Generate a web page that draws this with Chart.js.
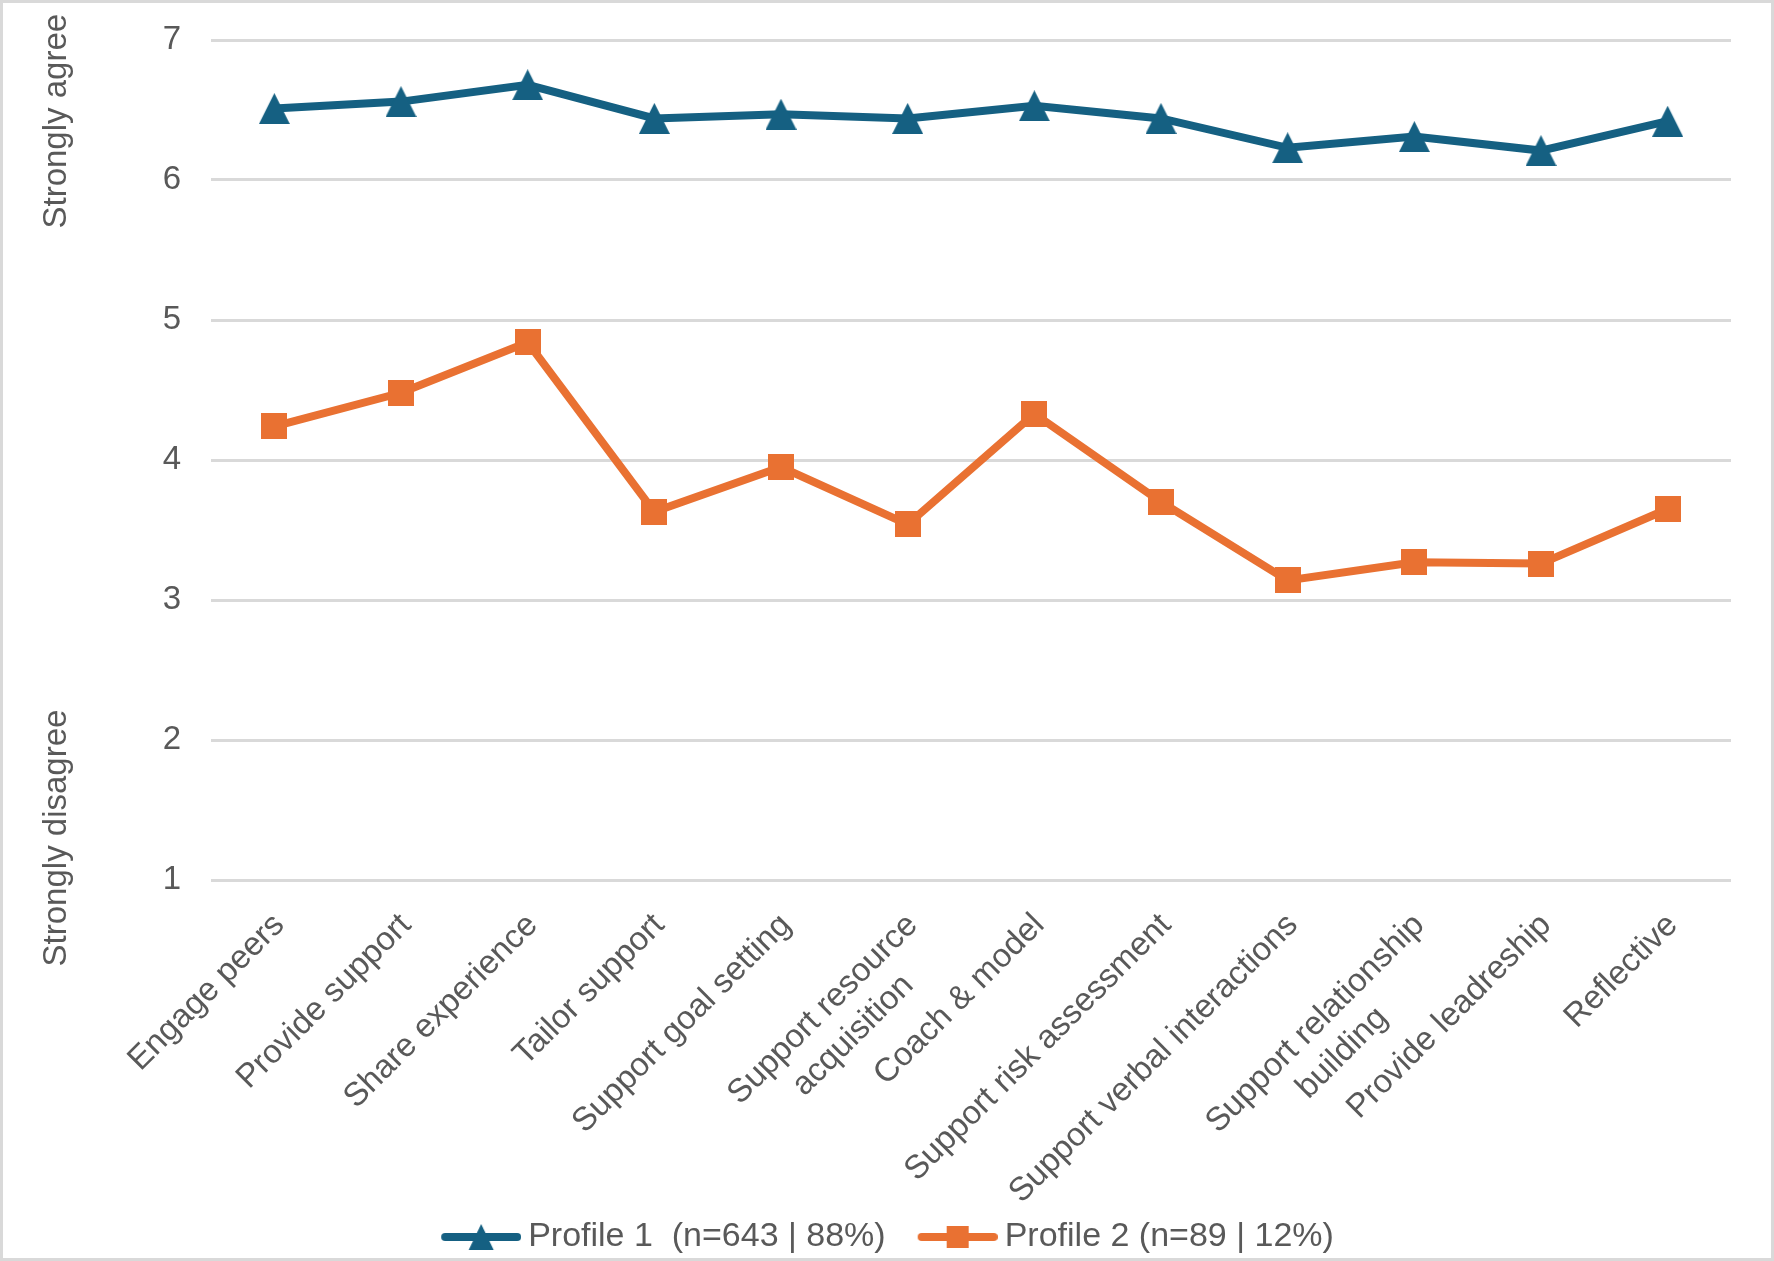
<!DOCTYPE html>
<html><head><meta charset="utf-8">
<script src="https://cdn.jsdelivr.net/npm/chart.js@4.4.1/dist/chart.umd.min.js"></script>
<style>html,body{margin:0;padding:0;background:#fff;} #wrap{width:1774px;height:1261px;}</style>
</head><body><div id="wrap"><canvas id="c" width="1774" height="1261"></canvas></div>
<script>
const categories = ['Engage peers','Provide support','Share experience','Tailor support','Support goal setting',['Support resource','acquisition'],'Coach & model','Support risk assessment','Support verbal interactions',['Support relationship','building'],'Provide leadreship','Reflective'];
const profile1Values = [6.51,6.56,6.68,6.44,6.47,6.44,6.53,6.44,6.23,6.31,6.21,6.42];
const profile2Values = [4.24,4.48,4.84,3.63,3.95,3.54,4.33,3.70,3.14,3.27,3.26,3.65];
const yTicks = [1,2,3,4,5,6,7];
const seriesNames = ['Profile 1  (n=643 | 88%)','Profile 2 (n=89 | 12%)'];
const axisNotes = ['Strongly agree','Strongly disagree'];

const BLUE = '#156082', ORANGE = '#E97132', TEXT = '#595959', GRID = '#d9d9d9';
const FONT = '"Liberation Sans", Arial, Helvetica, sans-serif';
Chart.defaults.font.family = FONT;
Chart.defaults.font.size = 33;
Chart.defaults.color = TEXT;

function makeTriangle(w,h,color){const c=document.createElement('canvas');c.width=w;c.height=h;const g=c.getContext('2d');g.fillStyle=color;g.beginPath();g.moveTo(w/2,0);g.lineTo(w,h);g.lineTo(0,h);g.closePath();g.fill();return c;}
function makeSquare(s,color){const c=document.createElement('canvas');c.width=s;c.height=s;const g=c.getContext('2d');g.fillStyle=color;g.fillRect(0,0,s,s);return c;}
// legend icon: transparent margin on the left, line+marker on the right 80px
const LEG_B = 97, LEG_W = LEG_B + 20;
function makeLegendIcon(kind,color){const c=document.createElement('canvas');c.width=LEG_W;c.height=28;const g=c.getContext('2d');const o=LEG_W-80;g.strokeStyle=color;g.lineWidth=8;g.lineCap='round';g.beginPath();g.moveTo(o+4,14);g.lineTo(o+76,14);g.stroke();g.fillStyle=color;if(kind==='tri'){g.beginPath();g.moveTo(o+40,1);g.lineTo(o+52.5,27);g.lineTo(o+27.5,27);g.closePath();g.fill();}else{g.fillRect(o+29,3,22,22);}return c;}

const triPoint = makeTriangle(31,31,BLUE);
const sqPoint = makeSquare(26,ORANGE);
const legendIcons = [makeLegendIcon('tri',BLUE), makeLegendIcon('sq',ORANGE)];

// centre shorter lines of multi-line labels (Chart.js right-aligns rotated labels)
const mctx = document.createElement('canvas').getContext('2d');
mctx.font = '33px ' + FONT;
function centreLines(lbl){
  if(!Array.isArray(lbl)) return lbl;
  const widths = lbl.map(t=>mctx.measureText(t).width);
  const maxW = Math.max(...widths), sp = mctx.measureText(' ').width;
  return lbl.map((t,i)=>t + ' '.repeat(Math.round((maxW-widths[i])/2/sp)));
}

const framePlugin = {
  id:'frame',
  beforeDraw(chart){const ctx=chart.ctx;ctx.save();ctx.fillStyle='#fff';ctx.fillRect(0,0,chart.width,chart.height);ctx.restore();},
  afterDraw(chart){
    const ctx=chart.ctx, y=chart.scales.y;
    ctx.save();ctx.fillStyle=TEXT;ctx.font='33px '+FONT;ctx.textAlign='center';ctx.textBaseline='alphabetic';
    [[axisNotes[0],6.42],[axisNotes[1],1.3]].forEach(([t,v])=>{ctx.save();ctx.translate(66,y.getPixelForValue(v));ctx.rotate(-Math.PI/2);ctx.fillText(t,0,0);ctx.restore();});
    ctx.strokeStyle=GRID;ctx.lineWidth=3;ctx.strokeRect(1.5,1.5,chart.width-3,chart.height-3);
    ctx.restore();
  }
};

new Chart(document.getElementById('c'), {
  type:'line',
  data:{
    labels:categories,
    datasets:[
      {label:seriesNames[0],data:profile1Values,borderColor:BLUE,backgroundColor:BLUE,borderWidth:8,pointStyle:triPoint,pointRadius:15,pointHoverRadius:15,tension:0},
      {label:seriesNames[1],data:profile2Values,borderColor:ORANGE,backgroundColor:ORANGE,borderWidth:8,pointStyle:sqPoint,pointRadius:15,pointHoverRadius:15,tension:0}
    ]
  },
  options:{
    responsive:false, animation:false, devicePixelRatio:1,
    layout:{padding:{top:40,bottom:-3,left:0,right:26}},
    plugins:{
      tooltip:{enabled:false},
      legend:{position:'bottom',labels:{usePointStyle:true,pointStyleWidth:LEG_B,padding:5,color:TEXT,font:{size:34},
        generateLabels(chart){const items=Chart.defaults.plugins.legend.labels.generateLabels(chart);items.forEach((it,i)=>{it.pointStyle=legendIcons[i];});return items;}}}
    },
    scales:{
      x:{offset:true,grid:{display:false,drawTicks:false,offset:true},border:{display:false},
         ticks:{autoSkip:false,maxRotation:45,minRotation:45,padding:26,labelOffset:5,color:TEXT,font:{size:33},
           callback(v){return centreLines(this.getLabelForValue(v));}},
         afterFit(s){s.height=335;}},
      y:{min:1,max:7,afterBuildTicks(s){s.ticks=yTicks.map(v=>({value:v}));},
         ticks:{padding:0,color:TEXT,font:{size:33}},
         grid:{color:GRID,lineWidth:3,drawTicks:true,tickLength:30,tickColor:'rgba(0,0,0,0)'},border:{display:false},
         afterFit(s){s.width=211;}},
      yR:{position:'right',display:true,min:1,max:7,ticks:{display:false},grid:{display:false,drawTicks:false},border:{display:false},
         afterFit(s){s.width=17;}}
    }
  },
  plugins:[framePlugin]
});
</script></body></html>
